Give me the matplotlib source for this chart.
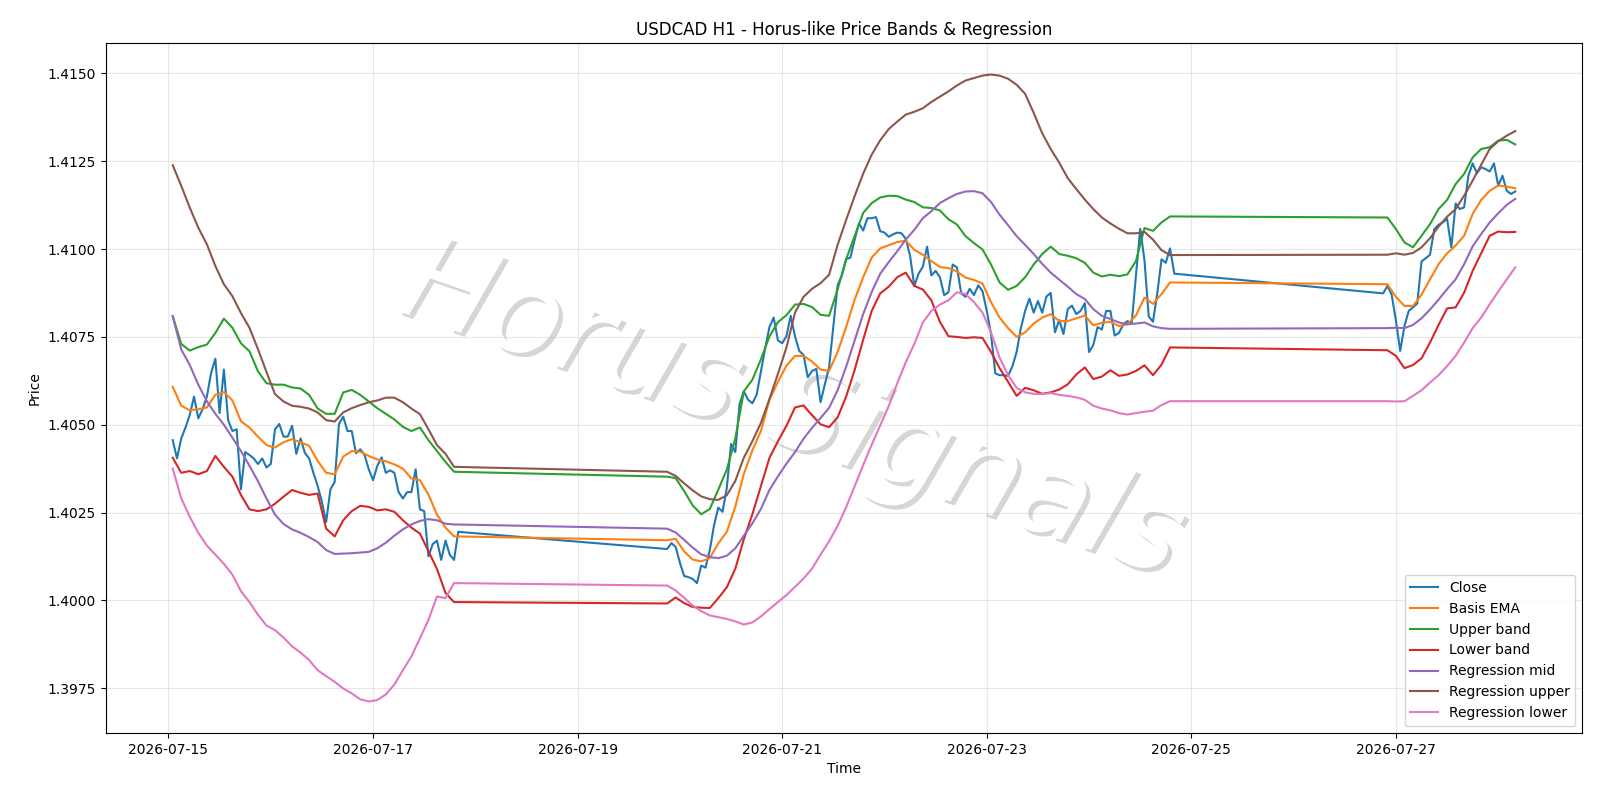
#!/usr/bin/env python3

import pandas as pd
import matplotlib
matplotlib.use('Agg')
import matplotlib.pyplot as plt
import matplotlib.dates as mdates
import matplotlib.patheffects as pe
from matplotlib.ticker import MultipleLocator, FormatStrFormatter

# H1 bars, market shut over the weekends
close_segments = [('2026-07-15 01:00', '2026-07-17 20:00'),
                  ('2026-07-19 21:00', '2026-07-24 20:00'),
                  ('2026-07-26 21:00', '2026-07-28 04:00')]
# indicator lines
line_segments = [('2026-07-15 01:00', '2026-07-17 19:00'),
                 ('2026-07-19 21:00', '2026-07-24 19:00'),
                 ('2026-07-26 22:00', '2026-07-28 04:00')]

close = [
    # 15 Jul 01:00 - 17 Jul 20:00
    1.40456, 1.40404, 1.40461, 1.40492, 1.40528, 1.40580, 1.40518, 1.40544, 1.40580, 1.40647,
    1.40688, 1.40533, 1.40657, 1.40513, 1.40482, 1.40487, 1.40316, 1.40422, 1.40414, 1.40404,
    1.40388, 1.40404, 1.40378, 1.40388, 1.40487, 1.40502, 1.40466, 1.40466, 1.40497, 1.40417,
    1.40461, 1.40420, 1.40404, 1.40363, 1.40326, 1.40280, 1.40223, 1.40316, 1.40337, 1.40502,
    1.40523, 1.40482, 1.40482, 1.40419, 1.40430, 1.40414, 1.40373, 1.40342, 1.40383, 1.40407,
    1.40363, 1.40370, 1.40363, 1.40308, 1.40290, 1.40308, 1.40308, 1.40373, 1.40259, 1.40254,
    1.40125, 1.40160, 1.40170, 1.40115, 1.40170, 1.40130, 1.40115, 1.40195,
    # 19 Jul 21:00 - 24 Jul 20:00
    1.40146, 1.40163, 1.40152, 1.40107, 1.40069, 1.40066, 1.40061, 1.40049, 1.40099, 1.40093,
    1.40142, 1.40213, 1.40264, 1.40252, 1.40320, 1.40445, 1.40422, 1.40559, 1.40595, 1.40571,
    1.40561, 1.40585, 1.40651, 1.40717, 1.40778, 1.40805, 1.40740, 1.40732, 1.40752, 1.40810,
    1.40752, 1.40710, 1.40699, 1.40635, 1.40653, 1.40659, 1.40564, 1.40615, 1.40663, 1.40781,
    1.40897, 1.40925, 1.40971, 1.40976, 1.41027, 1.41073, 1.41053, 1.41088, 1.41088, 1.41091,
    1.41051, 1.41047, 1.41035, 1.41042, 1.41047, 1.41045, 1.41029, 1.40981, 1.40895, 1.40930,
    1.40950, 1.41007, 1.40925, 1.40938, 1.40920, 1.40869, 1.40877, 1.40956, 1.40948, 1.40874,
    1.40864, 1.40887, 1.40869, 1.40897, 1.40880, 1.40824, 1.40758, 1.40646, 1.40641, 1.40641,
    1.40639, 1.40666, 1.40707, 1.40775, 1.40824, 1.40859, 1.40819, 1.40852, 1.40819, 1.40865,
    1.40875, 1.40763, 1.40798, 1.40758, 1.40829, 1.40839, 1.40815, 1.40824, 1.40846, 1.40707,
    1.40727, 1.40778, 1.40771, 1.40824, 1.40824, 1.40754, 1.40761, 1.40785, 1.40795, 1.40788,
    1.40925, 1.41058, 1.40968, 1.40808, 1.40793, 1.40874, 1.40971, 1.40961, 1.41002, 1.40930,
    # 26 Jul 21:00 - 28 Jul 04:00
    1.40874, 1.40895, 1.40870, 1.40796, 1.40710, 1.40781, 1.40824, 1.40834, 1.40845, 1.40965,
    1.40974, 1.40984, 1.41057, 1.41069, 1.41076, 1.41086, 1.41005, 1.41130, 1.41114, 1.41119,
    1.41209, 1.41244, 1.41216, 1.41233, 1.41228, 1.41221, 1.41244, 1.41181, 1.41209, 1.41166,
    1.41157, 1.41164,
]

basis_ema = [
    1.40608, 1.40554, 1.40541, 1.40544, 1.40549, 1.40585, 1.40593, 1.40569, 1.40510, 1.40492,
    1.40466, 1.40442, 1.40435, 1.40450, 1.40459, 1.40450, 1.40440, 1.40397, 1.40363, 1.40359,
    1.40409, 1.40425, 1.40423, 1.40411, 1.40401, 1.40396, 1.40387, 1.40375, 1.40347, 1.40342,
    1.40301, 1.40244, 1.40207, 1.40182,
    1.40171, 1.40175, 1.40139, 1.40116, 1.40111, 1.40120, 1.40162, 1.40195, 1.40267, 1.40360,
    1.40427, 1.40482, 1.40570, 1.40622, 1.40668, 1.40696, 1.40696, 1.40680, 1.40657, 1.40653,
    1.40707, 1.40778, 1.40856, 1.40920, 1.40976, 1.41002, 1.41011, 1.41020, 1.41024, 1.40998,
    1.40984, 1.40966, 1.40949, 1.40946, 1.40936, 1.40919, 1.40912, 1.40902, 1.40849, 1.40805,
    1.40775, 1.40750, 1.40763, 1.40788, 1.40805, 1.40815, 1.40795, 1.40795, 1.40803, 1.40811,
    1.40783, 1.40790, 1.40793, 1.40781, 1.40786, 1.40811, 1.40862, 1.40844, 1.40872, 1.40905,
    1.40900, 1.40864, 1.40838, 1.40838, 1.40870, 1.40914, 1.40957, 1.40988, 1.41010, 1.41038,
    1.41100, 1.41140, 1.41166, 1.41181, 1.41178, 1.41173,
]

upper_band = [
    1.40809, 1.40730, 1.40711, 1.40721, 1.40728, 1.40761, 1.40802, 1.40776, 1.40732, 1.40709,
    1.40652, 1.40618, 1.40614, 1.40614, 1.40606, 1.40603, 1.40585, 1.40546, 1.40531, 1.40531,
    1.40592, 1.40599, 1.40585, 1.40566, 1.40547, 1.40531, 1.40515, 1.40494, 1.40482, 1.40492,
    1.40456, 1.40425, 1.40394, 1.40366,
    1.40352, 1.40348, 1.40311, 1.40270, 1.40245, 1.40260, 1.40315, 1.40372, 1.40461, 1.40595,
    1.40628, 1.40686, 1.40751, 1.40792, 1.40812, 1.40842, 1.40844, 1.40835, 1.40813, 1.40810,
    1.40885, 1.40971, 1.41037, 1.41103, 1.41131, 1.41147, 1.41152, 1.41151, 1.41141, 1.41134,
    1.41119, 1.41117, 1.41110, 1.41085, 1.41070, 1.41037, 1.41017, 1.40999, 1.40956, 1.40905,
    1.40884, 1.40895, 1.40920, 1.40956, 1.40986, 1.41007, 1.40986, 1.40981, 1.40974, 1.40961,
    1.40933, 1.40922, 1.40927, 1.40923, 1.40928, 1.40966, 1.41060, 1.41052, 1.41076, 1.41093,
    1.41090, 1.41057, 1.41019, 1.41005, 1.41038, 1.41071, 1.41114, 1.41140, 1.41185, 1.41214,
    1.41261, 1.41285, 1.41290, 1.41309, 1.41311, 1.41298,
]

lower_band = [
    1.40406, 1.40363, 1.40368, 1.40359, 1.40368, 1.40411, 1.40380, 1.40352, 1.40300, 1.40259,
    1.40254, 1.40259, 1.40275, 1.40295, 1.40314, 1.40306, 1.40300, 1.40304, 1.40204, 1.40182,
    1.40228, 1.40254, 1.40269, 1.40266, 1.40256, 1.40259, 1.40252, 1.40228, 1.40207, 1.40190,
    1.40140, 1.40089, 1.40021, 1.39995,
    1.39991, 1.40008, 1.39992, 1.39981, 1.39979, 1.39978, 1.40006, 1.40037, 1.40090, 1.40174,
    1.40245, 1.40325, 1.40405, 1.40453, 1.40497, 1.40549, 1.40555, 1.40527, 1.40501, 1.40493,
    1.40521, 1.40580, 1.40656, 1.40742, 1.40824, 1.40874, 1.40893, 1.40920, 1.40933, 1.40895,
    1.40885, 1.40854, 1.40793, 1.40752, 1.40750, 1.40747, 1.40749, 1.40747, 1.40707, 1.40661,
    1.40622, 1.40582, 1.40605, 1.40598, 1.40588, 1.40592, 1.40600, 1.40615, 1.40643, 1.40663,
    1.40630, 1.40637, 1.40655, 1.40639, 1.40643, 1.40653, 1.40669, 1.40641, 1.40671, 1.40720,
    1.40712, 1.40696, 1.40661, 1.40670, 1.40689, 1.40734, 1.40784, 1.40831, 1.40834, 1.40876,
    1.40938, 1.40988, 1.41038, 1.41050, 1.41048, 1.41049,
]

reg_mid = [
    1.40809, 1.40714, 1.40670, 1.40614, 1.40567, 1.40531, 1.40500, 1.40463, 1.40425, 1.40383,
    1.40339, 1.40290, 1.40244, 1.40217, 1.40202, 1.40192, 1.40180, 1.40166, 1.40143, 1.40132,
    1.40133, 1.40134, 1.40136, 1.40138, 1.40148, 1.40164, 1.40184, 1.40202, 1.40216, 1.40226,
    1.40231, 1.40228, 1.40218, 1.40216,
    1.40204, 1.40193, 1.40172, 1.40150, 1.40131, 1.40123, 1.40120, 1.40127, 1.40148, 1.40184,
    1.40219, 1.40260, 1.40314, 1.40353, 1.40389, 1.40422, 1.40460, 1.40491, 1.40519, 1.40548,
    1.40598, 1.40665, 1.40740, 1.40815, 1.40878, 1.40930, 1.40963, 1.40994, 1.41027, 1.41055,
    1.41088, 1.41108, 1.41131, 1.41145, 1.41157, 1.41164, 1.41165, 1.41159, 1.41134, 1.41098,
    1.41068, 1.41037, 1.41012, 1.40986, 1.40958, 1.40933, 1.40913, 1.40893, 1.40872, 1.40858,
    1.40829, 1.40810, 1.40801, 1.40791, 1.40786, 1.40788, 1.40791, 1.40780, 1.40775, 1.40773,
    1.40775, 1.40776, 1.40775, 1.40784, 1.40803, 1.40828, 1.40856, 1.40886, 1.40914, 1.40957,
    1.41008, 1.41043, 1.41076, 1.41102, 1.41126, 1.41143,
]

reg_upper = [
    1.41239, 1.41180, 1.41118, 1.41061, 1.41014, 1.40952, 1.40900, 1.40866, 1.40818, 1.40776,
    1.40715, 1.40650, 1.40587, 1.40566, 1.40554, 1.40551, 1.40546, 1.40535, 1.40513, 1.40509,
    1.40535, 1.40547, 1.40556, 1.40564, 1.40569, 1.40577, 1.40577, 1.40564, 1.40546, 1.40530,
    1.40487, 1.40442, 1.40417, 1.40380,
    1.40366, 1.40354, 1.40333, 1.40313, 1.40296, 1.40288, 1.40286, 1.40299, 1.40340, 1.40406,
    1.40453, 1.40505, 1.40573, 1.40645, 1.40720, 1.40819, 1.40864, 1.40887, 1.40903, 1.40927,
    1.41012, 1.41083, 1.41151, 1.41215, 1.41269, 1.41310, 1.41342, 1.41363, 1.41383, 1.41391,
    1.41401, 1.41419, 1.41434, 1.41449, 1.41466, 1.41480, 1.41487, 1.41494, 1.41497, 1.41494,
    1.41485, 1.41468, 1.41442, 1.41388, 1.41330, 1.41285, 1.41246, 1.41202, 1.41171, 1.41141,
    1.41114, 1.41090, 1.41073, 1.41058, 1.41045, 1.41045, 1.41049, 1.41027, 1.40997, 1.40983,
    1.40984, 1.40988, 1.40984, 1.40989, 1.41005, 1.41031, 1.41064, 1.41092, 1.41114, 1.41152,
    1.41195, 1.41240, 1.41285, 1.41307, 1.41323, 1.41336,
]

reg_lower = [
    1.40375, 1.40290, 1.40238, 1.40192, 1.40156, 1.40130, 1.40104, 1.40073, 1.40026, 1.39995,
    1.39959, 1.39928, 1.39915, 1.39894, 1.39869, 1.39851, 1.39830, 1.39801, 1.39784, 1.39768,
    1.39749, 1.39735, 1.39718, 1.39712, 1.39716, 1.39732, 1.39760, 1.39801, 1.39840, 1.39892,
    1.39944, 1.40011, 1.40006, 1.40049,
    1.40042, 1.40028, 1.40007, 1.39985, 1.39969, 1.39957, 1.39952, 1.39947, 1.39940, 1.39931,
    1.39937, 1.39954, 1.39975, 1.39995, 1.40015, 1.40038, 1.40062, 1.40090, 1.40130, 1.40168,
    1.40212, 1.40265, 1.40325, 1.40385, 1.40443, 1.40498, 1.40553, 1.40618, 1.40678, 1.40730,
    1.40791, 1.40824, 1.40842, 1.40854, 1.40877, 1.40872, 1.40849, 1.40819, 1.40763, 1.40691,
    1.40641, 1.40605, 1.40592, 1.40588, 1.40587, 1.40590, 1.40585, 1.40582, 1.40578, 1.40571,
    1.40554, 1.40546, 1.40541, 1.40533, 1.40529, 1.40533, 1.40537, 1.40540, 1.40556, 1.40567,
    1.40567, 1.40566, 1.40567, 1.40582, 1.40598, 1.40620, 1.40641, 1.40667, 1.40696, 1.40734,
    1.40775, 1.40805, 1.40843, 1.40879, 1.40914, 1.40948,
]


def make_index(segments, step):
    parts = [pd.date_range(a, b, freq=step) for a, b in segments]
    return parts[0].append(parts[1:])


def main():
    t_close = make_index(close_segments, 'h')
    t_line = make_index(line_segments, '2h')

    fig, ax = plt.subplots(figsize=(16, 8), dpi=100)
    fig.subplots_adjust(left=0.066, right=0.989, top=0.946, bottom=0.084)

    ax.plot(t_close, close, label='Close')
    ax.plot(t_line, basis_ema, label='Basis EMA')
    ax.plot(t_line, upper_band, label='Upper band')
    ax.plot(t_line, lower_band, label='Lower band')
    ax.plot(t_line, reg_mid, label='Regression mid')
    ax.plot(t_line, reg_upper, label='Regression upper')
    ax.plot(t_line, reg_lower, label='Regression lower')

    ax.set_title('USDCAD H1 - Horus-like Price Bands & Regression')
    ax.set_xlabel('Time')
    ax.set_ylabel('Price')
    ax.xaxis.set_major_locator(mdates.DayLocator(bymonthday=[15, 17, 19, 21, 23, 25, 27]))
    ax.xaxis.set_major_formatter(mdates.DateFormatter('%Y-%m-%d'))
    ax.yaxis.set_major_locator(MultipleLocator(0.0025))
    ax.yaxis.set_major_formatter(FormatStrFormatter('%.4f'))
    ax.grid(True, alpha=0.3)
    ax.legend(loc='lower right')

    # watermark: white letters with a light grey drop shadow, under the lines
    ax.text(0.495, 0.485, 'Horus Signals', transform=fig.transFigure,
            fontsize=86, style='italic', color='white', rotation=-19,
            ha='center', va='center', zorder=1,
            path_effects=[pe.withSimplePatchShadow(offset=(3, -3),
                                                   shadow_rgbFace='black',
                                                   alpha=0.16)])

    fig.savefig('out.png', dpi=100)


if __name__ == '__main__':
    main()
